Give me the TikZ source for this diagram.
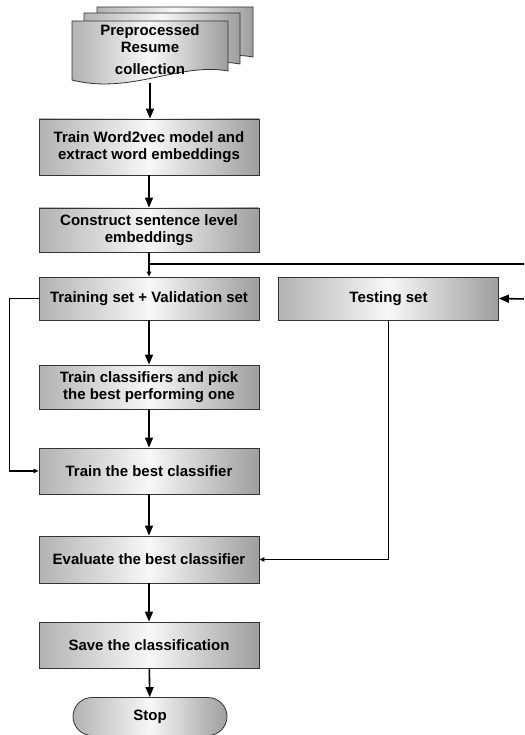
\documentclass[tikz,border=0pt]{standalone}
\usepackage{fontspec}
\setmainfont{Liberation Sans}
\usetikzlibrary{arrows.meta,shapes.misc}
\begin{document}
\begin{tikzpicture}[x=1pt,y=-1pt,
  gfill/.style={left color=black!30, right color=black!38, middle color=black!3},
  box/.style={draw=black!80, line width=0.8pt, gfill, minimum width=220pt, inner sep=0pt, align=center, font=\fontsize{15}{17}\selectfont\bfseries},
  docshape/.style={draw=black!80, line width=0.8pt, gfill},
  doctext/.style={align=center, inner sep=0pt, font=\fontsize{15}{17}\selectfont\bfseries},
  stopbox/.style={draw=black!80, line width=0.8pt, gfill, rounded rectangle, minimum width=154pt, minimum height=38pt, inner sep=0pt, font=\fontsize{15}{17}\selectfont\bfseries},
  big/.style={line width=1.6pt, -{Triangle[length=10pt,width=8pt]}},
  small/.style={line width=1.2pt, -{Triangle[length=5pt,width=4.5pt]}},
  plain/.style={line width=1.2pt}]
\useasboundingbox (0,0) rectangle (524,735);
\clip (0,0) rectangle (524,735);
\fill[white] (0,0) rectangle (524,735);
% stacked documents
\path[docshape] (97,7) -- (253,7) -- (253,57) .. controls (205,48) and (155,81) .. (97,66) -- cycle;
\path[docshape] (84,13) -- (240,13) -- (240,64) .. controls (192,55) and (142,88) .. (84,73) -- cycle;
\path[docshape] (72,21) -- (228,21) -- (228,71) .. controls (180,62) and (130,95) .. (72,80) -- cycle;
\node[doctext] (docs) at (150,50) {Preprocessed\\Resume\\[5pt]collection};
\coordinate (docbot) at (150,83);
% boxes
\node[box, minimum height=56pt] (w2v) at (149,147) {Train Word2vec model and\\extract word embeddings};
\node[box, minimum height=44pt] (sent) at (149,230) {Construct sentence level\\embeddings};
\node[box, minimum height=43pt] (tv) at (149,298.5) {Training set + Validation set};
\node[box, minimum height=43pt] (test) at (388.5,298.5) {Testing set};
\node[box, minimum height=44pt] (cls) at (149,387) {Train classifiers and pick\\the best performing one};
\node[box, minimum height=46pt] (tb) at (149,471) {Train the best classifier};
\node[box, minimum height=47pt] (ev) at (149,559.5) {Evaluate the best classifier};
\node[box, minimum height=46pt] (save) at (149,645) {Save the classification};
\node[stopbox] (stop) at (150,716.5) {Stop};
% connectors
\draw[big] (docbot) -- (docbot |- w2v.north);
\draw[big] (w2v) -- (sent);
\draw[small] (sent) -- (tv);
\coordinate (br) at (149,264);
\coordinate (rc) at (527,264);
\coordinate (rin) at (527,299);
\draw[plain] (br) -- (rc) -- (rin);
\draw[big] (rin) -- (test.east);
\draw[big] (tv) -- (cls);
\draw[big] (cls) -- (tb);
\draw[small] (tv.west) -- ++(-29,0) |- (tb.west);
\draw[big] (tb) -- (ev);
\draw[small] (test.south) |- (ev.east);
\draw[big] (ev) -- (save);
\draw[big] (save) -- (stop);
\end{tikzpicture}
\end{document}
